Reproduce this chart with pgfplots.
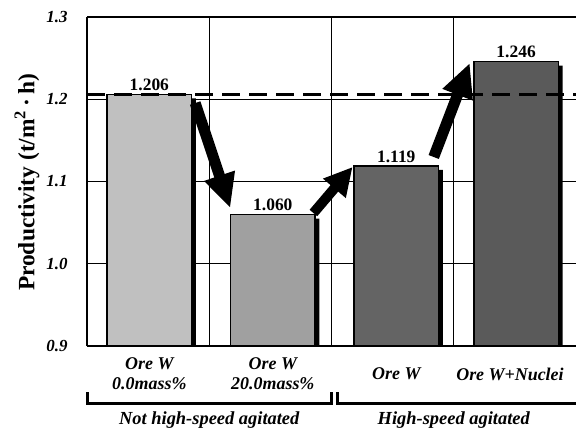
\documentclass[border=0pt]{standalone}
\usepackage{fontspec}
\setmainfont{Liberation Serif}
\usepackage{pgfplots}
\pgfplotsset{compat=1.18}
\usetikzlibrary{arrows.meta}
\definecolor{barA}{HTML}{C0C0C0}
\definecolor{barB}{HTML}{A0A0A0}
\definecolor{barC}{HTML}{646464}
\definecolor{barD}{HTML}{5A5A5A}
\begin{document}
\begin{tikzpicture}
\begin{axis}[
  scale only axis, width=489bp, height=329bp,
  xmin=0, xmax=4, ymin=0.9, ymax=1.3,
  axis x line=box, axis y line=left,
  axis line style={line width=2.5bp, -},
  /pgf/number format/assume math mode=true,
  ytick={0.9,1.0,1.1,1.2,1.3},
  yticklabel={\pgfmathprintnumber[fixed,fixed zerofill,precision=1]{\tick}},
  yticklabel style={font=\fontsize{17}{20}\selectfont\bfseries\itshape, xshift=-16bp},
  xtick={0.51,1.52,2.53,3.46},
  xticklabels={{Ore W\\0.0mass\%},{Ore W\\20.0mass\%},{Ore W},{Ore W+Nuclei}},
  xticklabel style={font=\fontsize{18}{20}\selectfont\bfseries\itshape, align=center, anchor=center, yshift=-28bp},
  minor xtick={1,2,3},
  xminorgrids=true, ymajorgrids=true,
  grid style={black, line width=0.6bp},
  minor grid style={black, line width=0.6bp},
  major tick length=0pt, minor tick length=0pt,
  ylabel={Productivity (t/m\textsuperscript{2}\,·\,h)},
  ylabel style={at={(axis description cs:-0.1227,0.497)}, anchor=center, font=\fontsize{23.5}{26}\selectfont\bfseries},
  clip mode=individual,
]
% shadows
\addplot[ybar, bar width=0.69, bar shift=0.035, fill=black, draw=none]
  coordinates {(0.51,1.201) (1.52,1.055) (2.53,1.114) (3.51,1.241)};
% bars
\pgfplotsset{barlbl/.style={nodes near coords={\pgfmathprintnumber[fixed,fixed zerofill,precision=3]{\pgfplotspointmeta}},
  nodes near coords style={font=\fontsize{17.5}{18}\selectfont\bfseries, text=black, inner sep=2.5bp}}}
\addplot[ybar, bar width=0.69, fill=barA, draw=black, line width=1.5bp, barlbl] coordinates {(0.51,1.206)};
\addplot[ybar, bar width=0.69, fill=barB, draw=black, line width=1.5bp, barlbl] coordinates {(1.52,1.060)};
\addplot[ybar, bar width=0.69, fill=barC, draw=black, line width=1.5bp, barlbl] coordinates {(2.53,1.119)};
\addplot[ybar, bar width=0.69, fill=barD, draw=black, line width=1.5bp, barlbl] coordinates {(3.51,1.246)};
% reference line
\draw[line width=3bp, dash pattern=on 18bp off 9bp] (axis cs:0,1.206) -- (axis cs:4,1.206);
% arrows
\draw[line width=11bp, -{Triangle[length=34bp,width=30bp]}] (axis cs:0.885,1.1954) -- (axis cs:1.172,1.0678);
\draw[line width=10bp, -{Triangle[length=28bp,width=28bp]}] (axis cs:1.852,1.0617) -- (axis cs:2.172,1.1176);
\draw[line width=11bp, -{Triangle[length=34bp,width=30bp]}] (axis cs:2.836,1.1298) -- (axis cs:3.131,1.2441);
% group brackets
\draw[line width=3bp] (axis cs:0.008,0.8440) -- (axis cs:0.008,0.8295) -- (axis cs:1.996,0.8295) -- (axis cs:1.996,0.8440);
\draw[line width=3bp] (axis cs:2.045,0.8440) -- (axis cs:2.045,0.8295) -- (axis cs:4.1,0.8295);
\node[font=\fontsize{18.5}{20}\selectfont\bfseries\itshape] at (axis cs:1.0,0.810) {Not high-speed agitated};
\node[font=\fontsize{18.5}{20}\selectfont\bfseries\itshape] at (axis cs:3.0,0.810) {High-speed agitated};
\coordinate (BL) at (axis cs:-0.7117,0.79544);
\coordinate (TR) at (axis cs:4,1.32067);
\end{axis}
\pgfresetboundingbox
\path[use as bounding box] (BL) rectangle (TR);
\end{tikzpicture}
\end{document}
